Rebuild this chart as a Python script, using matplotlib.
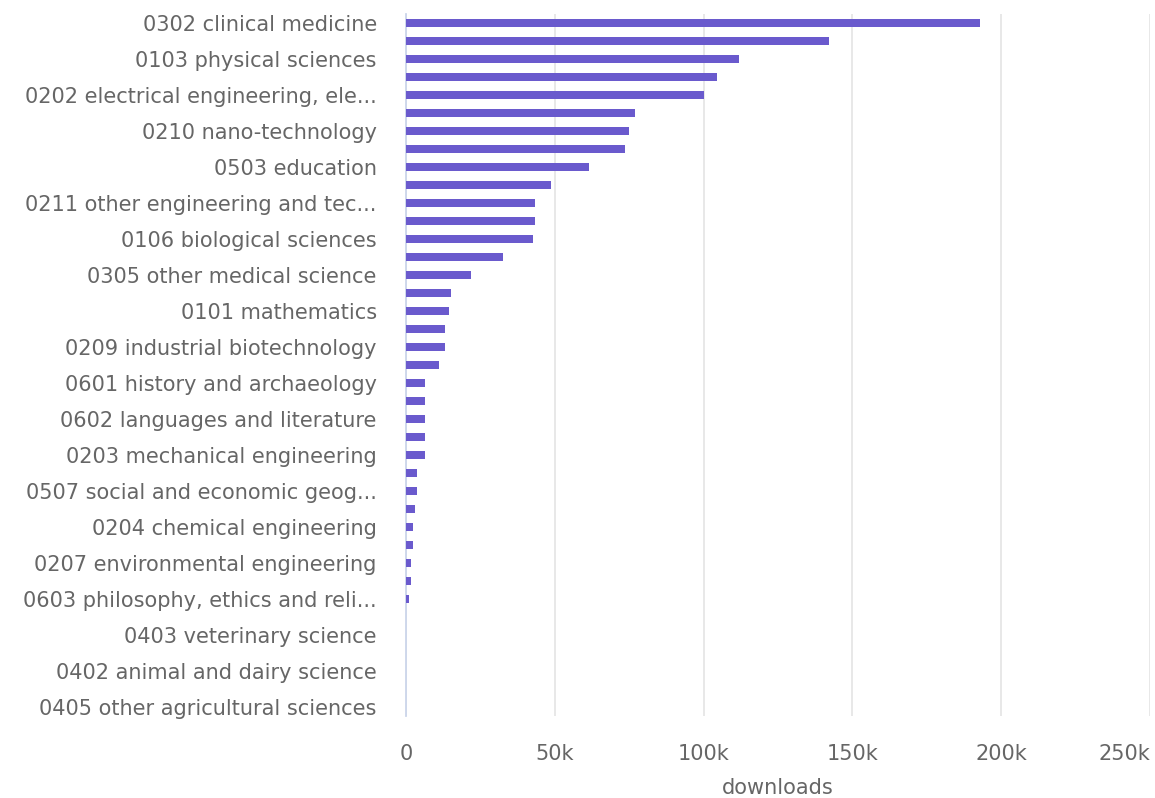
import numpy as np
import matplotlib.pyplot as plt
from matplotlib.ticker import FuncFormatter

# categories sorted by downloads; only every other label is shown on the chart
categories = [
    "0302 clinical medicine", "0102 computer and information sciences",
    "0103 physical sciences", "0301 basic medicine",
    "0202 electrical engineering, ele...", "0201 civil engineering",
    "0210 nano-technology", "0104 chemical sciences",
    "0503 education", "0205 materials engineering",
    "0211 other engineering and tec...", "0303 health sciences",
    "0106 biological sciences", "0105 earth and related environmental sciences",
    "0305 other medical science", "0502 economics and business",
    "0101 mathematics", "0501 psychology",
    "0209 industrial biotechnology", "0304 medical biotechnology",
    "0601 history and archaeology", "0206 medical engineering",
    "0602 languages and literature", "0504 sociology",
    "0203 mechanical engineering", "0505 law",
    "0507 social and economic geog...", "0506 political science",
    "0204 chemical engineering", "0208 environmental biotechnology",
    "0207 environmental engineering", "0508 media and communications",
    "0603 philosophy, ethics and reli...", "0604 arts",
    "0403 veterinary science", "0401 agriculture, forestry and fisheries",
    "0402 animal and dairy science", "0404 agricultural biotechnology",
    "0405 other agricultural sciences",
]
downloads = [
    193000, 142000, 112000, 104500, 100000, 77000, 75000, 73600, 61500, 48700,
    43400, 43300, 42700, 32600, 21800, 15100, 14500, 13100, 13000, 11100,
    6400, 6400, 6350, 6300, 6300, 3700, 3650, 3000, 2400, 2350,
    1700, 1650, 950, 120, 80, 40, 20, 10, 0,
]

fig = plt.figure(figsize=(11.55, 7.98), dpi=100)
ax = fig.add_axes([0.3515, 0.1028, 0.6442, 0.8797])

y = np.arange(len(categories))
ax.barh(y, downloads, height=0.45, color="#6a5acd", zorder=3)

ax.set_xlim(0, 250000)
ax.set_ylim(len(categories) - 0.5, -0.5)
ax.set_xticks(np.arange(0, 250001, 50000))
ax.xaxis.set_major_formatter(FuncFormatter(lambda v, p: "0" if v == 0 else f"{int(v/1000)}k"))
ax.set_yticks(y[::2], categories[::2])

ax.grid(axis="x", color="#e6e6e6", linewidth=1.3, zorder=0)
for s in ["top", "right", "bottom"]:
    ax.spines[s].set_visible(False)
ax.spines["left"].set_color("#ccd6eb")
ax.spines["left"].set_linewidth(1.3)

ax.tick_params(axis="y", length=0, pad=21, labelsize=15, labelcolor="#666666")
ax.tick_params(axis="x", length=0, pad=20, labelsize=15, labelcolor="#666666")
ax.set_xlabel("downloads", fontsize=15, color="#666666", labelpad=10)
# keep the last tick label inside the figure
ax.get_xticklabels()[-1].set_horizontalalignment("right")

fig.savefig("out.png", dpi=100)
